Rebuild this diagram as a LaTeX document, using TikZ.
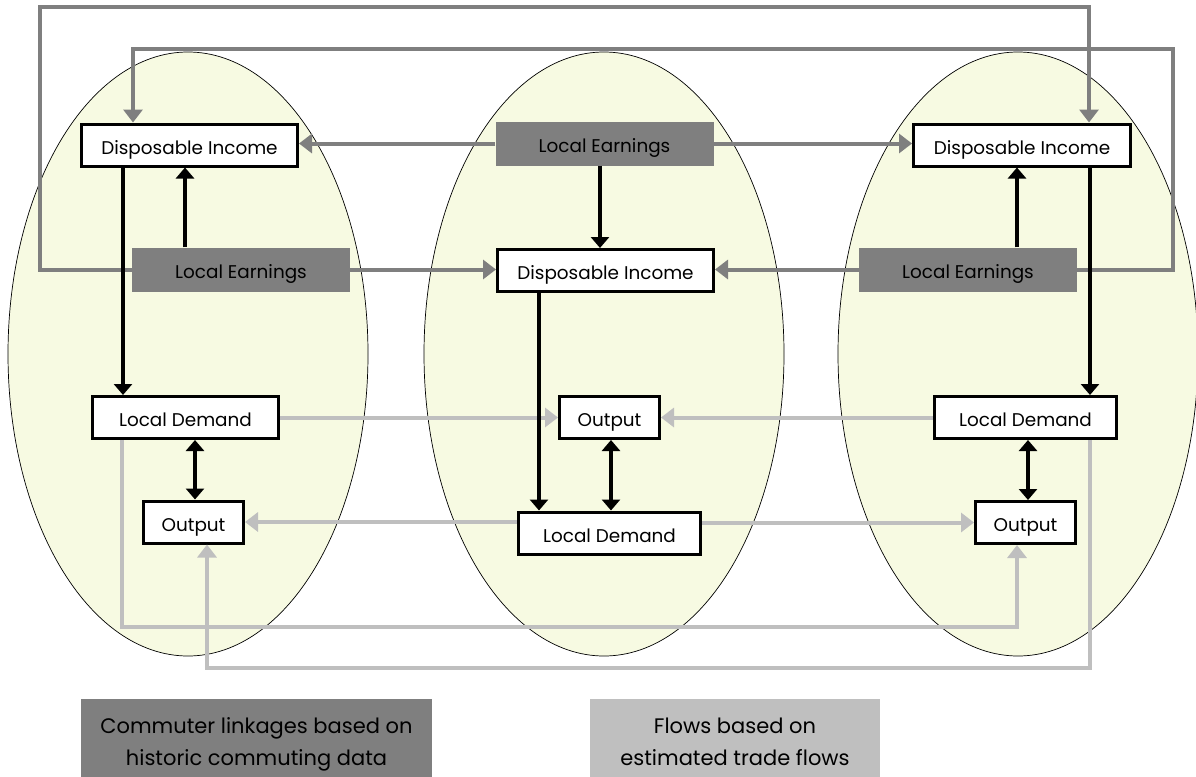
\documentclass[tikz,border=0pt]{standalone}
\usepackage{fontspec}
\setmainfont{Poppins}
\usetikzlibrary{arrows.meta}
\definecolor{egg}{RGB}{247,250,226}
\definecolor{cgray}{RGB}{127,127,127}
\definecolor{tgray}{RGB}{191,191,191}
\tikzset{
  region/.style={draw=black, line width=0.7pt, fill=egg},
  flowbox/.style={draw=black, line width=3pt, fill=white, inner sep=0pt, minimum height=42pt,
    text height=20pt, text depth=2pt, font=\fontsize{18.4}{20}\selectfont},
  earnbox/.style={fill=cgray, inner sep=0pt, minimum width=218pt, minimum height=44pt,
    text height=20pt, text depth=2pt, font=\fontsize{18.4}{20}\selectfont},
  legendbox/.style={inner sep=0pt, minimum height=81pt},
  legendtext/.style={inner sep=0pt, anchor=base, font=\fontsize{21}{24}\selectfont},
  link/.style={line width=4pt, draw=black, -{Triangle[width=18pt,length=11pt]}},
  duallink/.style={line width=4pt, draw=black, {Triangle[width=18pt,length=11pt]}-{Triangle[width=18pt,length=11pt]}},
  commute/.style={line width=4pt, draw=cgray, -{Triangle[width=19pt,length=13pt]}},
  trade/.style={line width=4pt, draw=tgray, -{Triangle[width=19pt,length=13pt]}}
}
\begin{document}
\begin{tikzpicture}[x=1pt,y=-1pt]
\useasboundingbox (0,0) rectangle (1196,776);
% regions
\draw[region] (188,354) ellipse [x radius=180pt, y radius=302pt];
\draw[region] (604,354) ellipse [x radius=180pt, y radius=302pt];
\draw[region] (1018,354) ellipse [x radius=180pt, y radius=302pt];
% nodes
\node[flowbox, minimum width=216pt] (DI1) at (189.5,145) {Disposable Income};
\node[earnbox] (LE1) at (241,269.5) {Local Earnings};
\node[earnbox] (LE2) at (604.5,143.5) {Local Earnings};
\node[flowbox, minimum width=216pt] (DI2) at (605.5,270.5) {Disposable Income};
\node[flowbox, minimum width=217pt] (DI3) at (1022,145) {Disposable Income};
\node[earnbox] (LE3) at (968,269.5) {Local Earnings};
\node[flowbox, minimum width=186pt] (LD1) at (185.5,417.5) {Local Demand};
\node[flowbox, minimum width=100pt] (O1) at (193.5,522) {Output};
\node[flowbox, minimum width=182pt] (LD2) at (609.5,533) {Local Demand};
\node[flowbox, minimum width=100pt] (O2) at (609.5,417.5) {Output};
\node[flowbox, minimum width=182pt] (LD3) at (1025.5,417.5) {Local Demand};
\node[flowbox, minimum width=100pt] (O3) at (1025.5,522.5) {Output};
% legend
\node[legendbox, fill=cgray, minimum width=351pt] (LG1) at (256.5,739.5) {};
\node[legendbox, fill=tgray, minimum width=290pt] (LG2) at (735,739.5) {};
\node[legendtext] (LG1a) at (256.5,733) {Commuter linkages based on};
\node[legendtext] (LG1b) at (256.5,765) {historic commuting data};
\node[legendtext] (LG2a) at (735,733) {Flows based on};
\node[legendtext] (LG2b) at (735,765) {estimated trade flows};
% helper coordinates
\coordinate (p1) at (40,7);
\coordinate (p2) at (1089,7);
\coordinate (p3) at (1173,49);
\coordinate (p4) at (133,49);
\coordinate (q1) at (122,627);
\coordinate (q2) at (1017,627);
\coordinate (q3) at (1090,668);
\coordinate (q4) at (207,668);
\coordinate (xa) at (185,0);
\coordinate (xb) at (123,0);
\coordinate (xc) at (195,0);
\coordinate (xd) at (600,0);
\coordinate (xe) at (539,0);
\coordinate (xf) at (611,0);
\coordinate (xg) at (1017,0);
\coordinate (xh) at (1090,0);
\coordinate (xi) at (1028,0);
% trade flows
\draw[trade] (LD1.east) -- (LD1.east -| O2.west);
\draw[trade] (LD3.west) -- (LD3.west -| O2.east);
\draw[trade] (LD2.west |- O1.east) -- (O1.east);
\draw[trade] (LD2.east |- O3.west) -- (O3.west);
\draw[trade] (LD1.south -| q1) -- (q1) -- (q2) -- (q2 |- O3.south);
\draw[trade] (LD3.south -| q3) -- (q3) -- (q4) -- (q4 |- O1.south);
% commuter linkages
\draw[commute] (LE2.west) -- (LE2.west -| DI1.east);
\draw[commute] (LE2.east) -- (LE2.east -| DI3.west);
\draw[commute] (LE1.east) -- (LE1.east -| DI2.west);
\draw[commute] (LE3.west) -- (LE3.west -| DI2.east);
\draw[commute] (LE1.west) -| (p1) -- (p2) -- (p2 |- DI3.north);
\draw[commute] (LE3.east) -| (p3) -- (p4) -- (p4 |- DI1.north);
% local links
\draw[link] (LE1.north -| xa) -- (DI1.south -| xa);
\draw[link] (DI1.south -| xb) -- (LD1.north -| xb);
\draw[duallink] (LD1.south -| xc) -- (O1.north -| xc);
\draw[link] (LE2.south -| xd) -- (DI2.north -| xd);
\draw[link] (DI2.south -| xe) -- (LD2.north -| xe);
\draw[duallink] (O2.south -| xf) -- (LD2.north -| xf);
\draw[link] (LE3.north -| xg) -- (DI3.south -| xg);
\draw[link] (DI3.south -| xh) -- (LD3.north -| xh);
\draw[duallink] (LD3.south -| xi) -- (O3.north -| xi);
\end{tikzpicture}
\end{document}
